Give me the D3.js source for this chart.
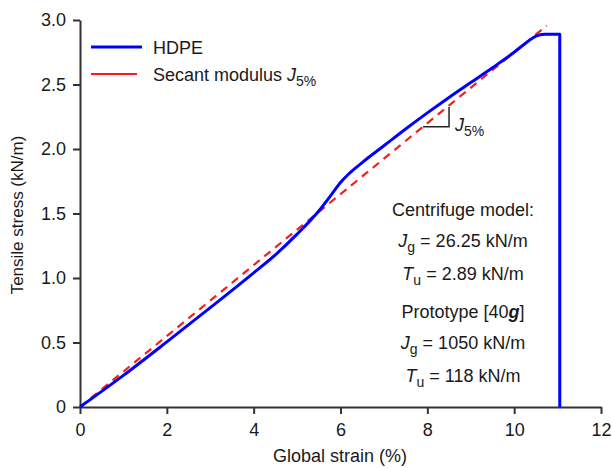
<!DOCTYPE html>
<html><head><meta charset="utf-8">
<script src="https://cdn.jsdelivr.net/npm/d3@7"></script>
<style>body{margin:0;background:#fff}svg{display:block}text{font-family:"Liberation Sans",Arial,sans-serif;fill:#1a1a1a}</style>
</head><body><svg id="c" width="612" height="468"></svg>
<script>
// Data
const hdpeStrain = [0, 1, 2, 3, 4, 4.5, 5, 5.5, 5.8, 6.0, 6.2, 6.5, 7, 7.5, 8, 8.5, 9, 9.5, 10, 10.3, 10.5, 10.7, 11.05, 11.05];
const hdpeStress = [0, 0.245, 0.505, 0.77, 1.04, 1.18, 1.34, 1.52, 1.65, 1.74, 1.81, 1.895, 2.025, 2.155, 2.28, 2.4, 2.515, 2.63, 2.75, 2.83, 2.875, 2.89, 2.89, 0];
const secantStrain = [0, 10.75];
const secantSlope = [0.275]; // kN/m per %
const xTicks = [0, 2, 4, 6, 8, 10, 12];
const yTicks = [0, 0.5, 1.0, 1.5, 2.0, 2.5, 3.0];
const yTickLabels = ["0", "0.5", "1.0", "1.5", "2.0", "2.5", "3.0"];

const svg = d3.select("#c");
const x = d3.scaleLinear().domain([0, 12]).range([80, 601]);
const y = d3.scaleLinear().domain([0, 3]).range([407, 20]);
const axisColor = "#333";
const FS = "18px";

// Axes
const gx = svg.append("g").attr("transform", `translate(0,${y(0)})`)
  .call(d3.axisBottom(x).tickValues(xTicks).tickFormat(d3.format("d")).tickSize(7).tickSizeOuter(0));
const gy = svg.append("g").attr("transform", `translate(${x(0)},0)`)
  .call(d3.axisLeft(y).tickValues(yTicks).tickFormat((d, i) => yTickLabels[i]).tickSize(7).tickSizeOuter(0));
[gx, gy].forEach(g => {
  g.select(".domain").attr("stroke", axisColor).attr("stroke-width", 2);
  g.selectAll(".tick line").attr("stroke", axisColor).attr("stroke-width", 2);
  g.selectAll(".tick text").attr("fill", "#1a1a1a").style("font-size", FS).style("font-family", "'Liberation Sans', Arial, sans-serif");
});
gx.selectAll(".tick text").attr("dy", "0.71em").attr("y", 16);
gy.selectAll(".tick text").attr("x", -14);

// Axis titles
svg.append("text").attr("x", 340).attr("y", 462).attr("text-anchor", "middle").style("font-size", FS).text("Global strain (%)");
svg.append("text").attr("transform", `translate(23,${215}) rotate(-90)`).attr("text-anchor", "middle").style("font-size", "17px").text("Tensile stress (kN/m)");

// Secant line
const secant = secantStrain.map(s => [s, s * secantSlope[0]]);
svg.append("path").datum(secant)
  .attr("d", d3.line().x(d => x(d[0])).y(d => y(d[1])))
  .attr("fill", "none").attr("stroke", "#ff1a1a").attr("stroke-width", 2.2).attr("stroke-dasharray", "8,6");

// HDPE curve
const hdpe = hdpeStrain.map((s, i) => [s, hdpeStress[i]]);
svg.append("path").datum(hdpe)
  .attr("d", d3.line().x(d => x(d[0])).y(d => y(d[1])).curve(d3.curveMonotoneX))
  .attr("fill", "none").attr("stroke", "#0000ff").attr("stroke-width", 3).attr("stroke-linejoin", "round");

// Slope triangle
const t0 = 7.9, t1 = 8.5;
svg.append("path")
  .attr("d", `M${x(t0)},${y(t0 * secantSlope[0])}H${x(t1)}V${y(t1 * secantSlope[0]) + 1.5}`)
  .attr("fill", "none").attr("stroke", "#222").attr("stroke-width", 1.5);
const jl = svg.append("text").attr("x", x(t1) + 6).attr("y", y(t0 * secantSlope[0]) + 4).style("font-size", FS);
jl.append("tspan").style("font-style", "italic").text("J");
jl.append("tspan").attr("dy", 5).style("font-size", "14px").text("5%");

// Legend
const leg = [{color: "#0000ff", w: 3, x2: 142, yy: 47}, {color: "#ff1a1a", w: 2.2, x2: 137, yy: 74}];
leg.forEach(l => {
  svg.append("line").attr("x1", 91).attr("x2", l.x2).attr("y1", l.yy).attr("y2", l.yy).attr("stroke", l.color).attr("stroke-width", l.w);
});
svg.append("text").attr("x", 153).attr("y", 54).style("font-size", FS).text("HDPE");
const st = svg.append("text").attr("x", 153).attr("y", 81).style("font-size", FS);
st.append("tspan").text("Secant modulus ");
st.append("tspan").style("font-style", "italic").text("J");
st.append("tspan").attr("dy", 5).style("font-size", "14px").text("5%");

// Info block
const cx = 463;
function plain(yy, s) {
  svg.append("text").attr("x", cx).attr("y", yy).attr("text-anchor", "middle").style("font-size", FS).text(s);
}
function sub(yy, v, sb, rest) {
  const t = svg.append("text").attr("x", cx).attr("y", yy).attr("text-anchor", "middle").style("font-size", FS);
  t.append("tspan").style("font-style", "italic").text(v);
  t.append("tspan").attr("dy", 5).style("font-size", "14px").text(sb);
  t.append("tspan").attr("dy", -5).text(rest);
}
plain(216, "Centrifuge model:");
sub(247, "J", "g", " = 26.25 kN/m");
sub(280, "T", "u", " = 2.89 kN/m");
const p = svg.append("text").attr("x", cx).attr("y", 318).attr("text-anchor", "middle").style("font-size", FS);
p.append("tspan").text("Prototype [40");
p.append("tspan").style("font-style", "italic").style("font-weight", "bold").text("g");
p.append("tspan").text("]");
sub(349, "J", "g", " = 1050 kN/m");
sub(382, "T", "u", " = 118 kN/m");
</script></body></html>
